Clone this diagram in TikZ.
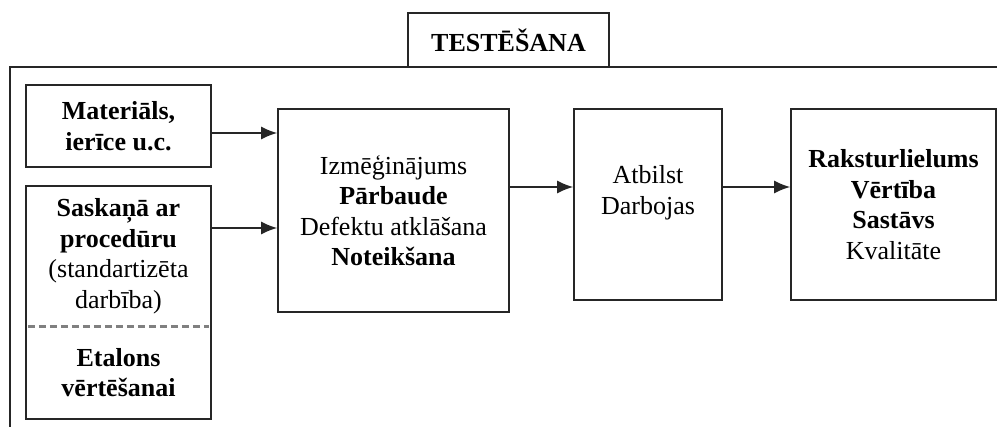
\documentclass[tikz,border=0pt]{standalone}
\usepackage{fontspec}
\setmainfont{Liberation Serif}
\usetikzlibrary{arrows.meta}

\begin{document}
\begin{tikzpicture}[x=1pt, y=-1pt,
    block/.style={draw=black!85, line width=1.6pt, align=center, inner sep=0pt,
                  font=\fontsize{26}{30.5}\selectfont},
    block plain/.style={align=center, inner sep=0pt, font=\fontsize{26}{30.5}\selectfont},
    flow/.style={-{Latex[length=16pt, width=13pt]}, line width=1.6pt, black!85},
    frame/.style={line width=1.6pt, black!85},
    divider/.style={line width=3pt, black!50, dash pattern=on 7pt off 4pt}]

    \useasboundingbox (0,0) rectangle (997,427);

    % Outer frame - open on the right and at the bottom
    \draw[frame] (997,67) -| (10,427);
    \node[block, fill=white, minimum width=201pt, minimum height=54pt] (title) at (508.5,40) {\textbf{TESTĒŠANA}};

    % Inputs
    \node[block, minimum width=185pt, minimum height=82pt] (mat) at (118.5,126) {\textbf{Materiāls,}\\\textbf{ierīce u.c.}};
    \node[block, minimum width=185pt, minimum height=233pt] (sask) at (118.5,302.5) {};
    \node[block plain, minimum width=185pt, minimum height=140pt] (proc) at (118.5,256) {\textbf{Saskaņā ar}\\\textbf{procedūru}\\(standartizēta\\darbība)};
    \node[block plain, minimum width=185pt, minimum height=93pt] (etal) at (118.5,372.5) {\textbf{Etalons}\\\textbf{vērtēšanai}};
    \draw[divider] ([xshift=2pt]proc.south west) -- ([xshift=-2pt]proc.south east);

    % Steps
    \node[block, minimum width=231pt, minimum height=203pt] (izm) at (393.5,210.5) {Izmēģinājums\\\textbf{Pārbaude}\\Defektu atklāšana\\\textbf{Noteikšana}};
    \node[block, minimum width=148pt, minimum height=191pt, text depth=29pt] (atb) at (648,204.5) {Atbilst\\Darbojas};
    \node[block, minimum width=205pt, minimum height=191pt] (raks) at (893.5,204.5) {\textbf{Raksturlielums}\\\textbf{Vērtība}\\\textbf{Sastāvs}\\Kvalitāte};

    % Connectors
    \coordinate (m1) at ([yshift=-7pt]mat.east);
    \coordinate (s1) at ([yshift=28pt]proc.east);
    \coordinate (a1) at ([yshift=17.5pt]atb.west);
    \coordinate (a2) at ([yshift=17.5pt]atb.east);
    \draw[flow] (m1) -- (m1 -| izm.west);
    \draw[flow] (s1) -- (s1 -| izm.west);
    \draw[flow] (a1 -| izm.east) -- (a1);
    \draw[flow] (a2) -- (a2 -| raks.west);
\end{tikzpicture}
\end{document}
